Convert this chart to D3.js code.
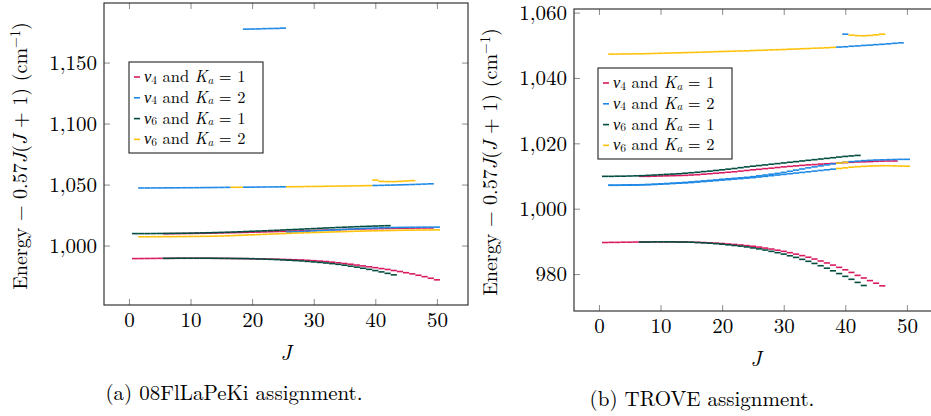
<!DOCTYPE html>
<html>
<head>
<meta charset="utf-8">
<script src="https://cdn.jsdelivr.net/npm/d3@7"></script>
<style>
  html, body { margin: 0; padding: 0; background: #fff; }
  svg { display: block; }
  text { font-family: "Latin Modern Roman", "CMU Serif", "Liberation Serif", "Times New Roman", serif; fill: #000; }
</style>
</head>
<body>
<svg id="fig" width="931" height="416"></svg>
<script>
// ---------------- data ----------------
const jTicks = [0, 10, 20, 30, 40, 50];
const flEnergyTicks = [1000, 1050, 1100, 1150];
const trEnergyTicks = [980, 1000, 1020, 1040, 1060];
const jLimits = [-4.05, 55.05];
const flEnergyLimits = [951.27, 1198.83];
const trEnergyLimits = [968.7, 1061.1];

const seriesColors = ["#D81B60", "#1E88E5", "#004D40", "#FFC107"];
const seriesNu = ["4", "4", "6", "6"];
const seriesKa = ["1", "2", "1", "2"];

// 08FlLaPeKi assignment (each list runs over consecutive J from the start J given in flBranches)
const fl_nu4K1_low = [989.3,989.35,989.4,989.45,989.5,989.5,989.55,989.6,989.6,989.6,
  989.6,989.6,989.6,989.55,989.5,989.5,989.4,989.35,989.3,989.2,
  989.1,989.0,988.9,988.8,988.65,988.5,988.35,988.2,987.9,987.6,
  987.25,986.9,986.4,985.9,985.3,984.7,984.0,983.3,982.6,981.9,
  981.15,980.4,979.55,978.7,977.75,976.8,975.65,974.5,973.2,971.9];
const fl_nu4K1_up = [1009.7,1009.75,1009.8,1009.85,1009.9,1010.0,1010.05,1010.15,1010.25,1010.35,
  1010.45,1010.55,1010.7,1010.8,1010.95,1011.05,1011.2,1011.35,1011.5,1011.65,
  1011.8,1011.95,1012.1,1012.25,1012.4,1012.55,1012.7,1012.85,1013.0,1013.15,
  1013.3,1013.45,1013.55,1013.7,1013.8,1013.9,1014.0,1014.1,1014.2,1014.25,
  1014.3,1014.35,1014.4,1014.45];
const fl_nu4K2_top1 = [1047.2,1047.2,1047.25,1047.25,1047.3,1047.3,1047.35,1047.4,1047.4,1047.45,
  1047.5,1047.55,1047.6,1047.65,1047.7];
const fl_nu4K2_top2 = [1047.85,1047.9,1047.95,1048.0,1048.05,1048.1,1048.15];
const fl_nu4K2_top3 = [1049.25,1049.35,1049.5,1049.6,1049.75,1049.9,1050.05,1050.2,1050.4,1050.6];
const fl_nu4K2_mid = [1011.1,1011.3,1011.5,1011.75,1012.0,1012.25,1012.5,1012.75,1013.0,1013.25,
  1013.5,1013.75,1014.0,1014.2,1014.4,1014.55,1014.7,1014.8,1014.9,1014.95,
  1015.0,1015.05,1015.1,1015.1,1015.1];
const fl_nu4K2_far = [1177.4,1177.5,1177.6,1177.8,1177.9,1178.0,1178.2];
const fl_nu6K1_low = [989.5,989.55,989.6,989.6,989.6,989.6,989.6,989.6,989.55,989.5,
  989.45,989.4,989.35,989.3,989.2,989.05,988.9,988.7,988.5,988.25,
  988.0,987.7,987.4,987.0,986.6,986.2,985.7,985.2,984.6,983.9,
  983.1,982.3,981.4,980.5,979.5,978.4,977.2,976.0];
const fl_nu6K1_up = [1009.8,1009.8,1009.8,1009.85,1009.9,1009.95,1010.0,1010.05,1010.1,1010.2,
  1010.3,1010.4,1010.5,1010.65,1010.8,1010.95,1011.1,1011.3,1011.5,1011.7,
  1011.9,1012.1,1012.3,1012.5,1012.75,1013.0,1013.2,1013.45,1013.7,1013.9,
  1014.15,1014.4,1014.6,1014.85,1015.05,1015.25,1015.45,1015.65,1015.8,1016.0,
  1016.15,1016.3];
const fl_nu6K2_mid = [1007.2,1007.2,1007.25,1007.25,1007.3,1007.3,1007.35,1007.4,1007.45,1007.5,
  1007.55,1007.6,1007.7,1007.8,1008.0,1008.2,1008.4,1008.6,1008.8,1009.0,
  1009.2,1009.4,1009.6,1009.8,1010.0,1010.2,1010.4,1010.55,1010.7,1010.85,
  1011.0,1011.15,1011.3,1011.45,1011.6,1011.75,1011.85,1012.0,1012.1,1012.2,
  1012.3,1012.4,1012.5,1012.6,1012.65,1012.7,1012.75,1012.8,1012.85];
const fl_nu6K2_top1 = [1047.75,1047.8];
const fl_nu6K2_top2 = [1048.2,1048.25,1048.3,1048.4,1048.45,1048.5,1048.6,1048.65,1048.75,1048.8,
  1048.9,1049.0,1049.05,1049.15];
const fl_nu6K2_high = [1053.6,1052.6,1052.4,1052.4,1052.6,1052.9,1053.2];

// [series index, first J, energies]
const flBranches = [
  [0, 1, fl_nu4K1_low], [0, 6, fl_nu4K1_up],
  [1, 2, fl_nu4K2_top1], [1, 19, fl_nu4K2_top2], [1, 40, fl_nu4K2_top3],
  [1, 26, fl_nu4K2_mid], [1, 19, fl_nu4K2_far],
  [2, 6, fl_nu6K1_low], [2, 1, fl_nu6K1_up],
  [3, 2, fl_nu6K2_mid], [3, 17, fl_nu6K2_top1], [3, 26, fl_nu6K2_top2], [3, 40, fl_nu6K2_high]
];

// TROVE assignment
const tr_nu4K1_low = [989.65,989.7,989.7,989.75,989.75,989.8,989.8,989.8,989.85,989.85,
  989.85,989.85,989.8,989.8,989.75,989.7,989.65,989.55,989.45,989.35,
  989.2,989.05,988.9,988.7,988.5,988.25,987.95,987.65,987.3,986.95,
  986.55,986.1,985.65,985.15,984.6,984.0,983.4,982.75,982.05,981.3,
  980.5,979.6,978.8,978.0,977.2,976.4];
const tr_nu4K1_up = [1009.9,1009.9,1009.95,1010.0,1010.05,1010.1,1010.15,1010.2,1010.3,1010.4,
  1010.55,1010.7,1010.85,1011.0,1011.15,1011.3,1011.5,1011.7,1011.9,1012.05,
  1012.25,1012.4,1012.6,1012.8,1012.95,1013.1,1013.25,1013.4,1013.5,1013.65,
  1013.75,1013.85,1013.95,1014.1,1014.2,1014.3,1014.35,1014.4,1014.5,1014.55,
  1014.6,1014.6];
const tr_nu4K2_midA = [1007.2,1007.2,1007.25,1007.3,1007.3,1007.35,1007.4,1007.5,1007.6,1007.7,
  1007.8,1007.9,1008.05,1008.2,1008.35,1008.5,1008.65,1008.8,1009.0,1009.15,
  1009.3,1009.45,1009.6,1009.8,1010.05,1010.3,1010.55,1010.8,1011.1,1011.45,
  1011.8,1012.15,1012.5,1012.8,1013.1,1013.4,1013.7,1013.95,1014.2,1014.4,
  1014.55,1014.7,1014.8,1014.9,1014.95,1015.0,1015.05,1015.1,1015.1];
const tr_nu4K2_midB = [1007.15,1007.15,1007.2,1007.2,1007.25,1007.3,1007.35,1007.4,1007.5,1007.6,
  1007.7,1007.8,1007.9,1008.0,1008.15,1008.3,1008.45,1008.6,1008.75,1008.9,
  1009.05,1009.2,1009.35,1009.5,1009.7,1009.9,1010.1,1010.3,1010.5,1010.7,
  1010.9,1011.1,1011.3,1011.5,1011.7,1011.9,1012.1];
const tr_nu4K2_top = [1049.45,1049.55,1049.7,1049.8,1049.95,1050.05,1050.2,1050.3,1050.45,1050.6,1050.75];
const tr_nu4K2_high = [1053.4];
const tr_nu6K1_low = [989.8,989.8,989.85,989.85,989.85,989.85,989.8,989.8,989.75,989.65,
  989.55,989.45,989.3,989.15,988.95,988.75,988.55,988.3,988.0,987.7,
  987.35,986.95,986.55,986.1,985.6,985.1,984.5,983.9,983.25,982.55,
  981.8,981.0,980.15,979.3,978.4,977.45,976.5];
const tr_nu6K1_up = [1009.9,1009.9,1009.95,1009.95,1010.0,1010.05,1010.1,1010.2,1010.3,1010.4,
  1010.5,1010.6,1010.7,1010.85,1011.0,1011.15,1011.35,1011.5,1011.7,1011.9,
  1012.1,1012.3,1012.55,1012.8,1013.0,1013.2,1013.4,1013.6,1013.8,1014.0,
  1014.2,1014.4,1014.6,1014.8,1015.0,1015.2,1015.4,1015.6,1015.8,1016.0,
  1016.15,1016.3];
const tr_nu6K2_mid = [1012.3,1012.5,1012.7,1012.85,1012.95,1013.05,1013.1,1013.15,1013.15,1013.1,1013.05,1013.0];
const tr_nu6K2_midUp = [1013.95,1014.2];
const tr_nu6K2_top = [1047.3,1047.3,1047.35,1047.35,1047.4,1047.4,1047.45,1047.5,1047.55,1047.6,
  1047.65,1047.7,1047.75,1047.8,1047.85,1047.9,1047.95,1048.05,1048.1,1048.15,
  1048.2,1048.25,1048.3,1048.4,1048.45,1048.5,1048.6,1048.65,1048.7,1048.8,
  1048.85,1048.95,1049.0,1049.1,1049.15,1049.25,1049.35];
const tr_nu6K2_high = [1053.1,1052.95,1052.9,1053.0,1053.2,1053.4];

const trBranches = [
  [0, 1, tr_nu4K1_low], [0, 7, tr_nu4K1_up],
  [1, 2, tr_nu4K2_midA], [1, 2, tr_nu4K2_midB], [1, 39, tr_nu4K2_top], [1, 40, tr_nu4K2_high],
  [2, 7, tr_nu6K1_low], [2, 1, tr_nu6K1_up],
  [3, 39, tr_nu6K2_mid], [3, 39, tr_nu6K2_midUp], [3, 2, tr_nu6K2_top], [3, 41, tr_nu6K2_high]
];

// ---------------- drawing ----------------
const svg = d3.select("#fig");
const FS = 21;        // tick labels, axis titles, captions
const LEG_FS = 16.5;  // legend entries

function addMathLabel(sel, nu, ka) {
  const sub = LEG_FS * 0.7;
  sel.append("tspan").attr("font-style", "italic").text("\u03BD");
  sel.append("tspan").attr("font-size", sub).attr("dy", 1.5).text(nu);
  sel.append("tspan").attr("dy", -1.5).text(" and ");
  sel.append("tspan").attr("font-style", "italic").text("K");
  sel.append("tspan").attr("font-size", sub).attr("font-style", "italic").attr("dy", 1.5).text("a");
  sel.append("tspan").attr("dy", -1.5).text(" = " + ka);
}

function drawPanel(opt) {
  const g = svg.append("g").attr("transform", `translate(${opt.left},${opt.top})`);
  const w = opt.width, h = opt.height;
  const x = d3.scaleLinear().domain(jLimits).range([0, w]);
  const y = d3.scaleLinear().domain(opt.yLimits).range([h, 0]);
  const clipId = "clip-" + opt.id;
  g.append("clipPath").attr("id", clipId).append("rect").attr("width", w).attr("height", h);

  // level dashes, one per (J, energy)
  const marks = g.append("g").attr("clip-path", `url(#${clipId})`);
  [0, 1, 2, 3].forEach(s => {
    opt.branches.filter(b => b[0] === s).forEach(([si, j0, vals]) => {
      marks.append("g").selectAll("line").data(vals).join("line")
        .attr("x1", (d, i) => x(j0 + i - 0.5))
        .attr("x2", (d, i) => x(j0 + i + 0.5))
        .attr("y1", d => y(d)).attr("y2", d => y(d))
        .attr("stroke", seriesColors[si]).attr("stroke-width", 1.6);
    });
  });

  // axes: ticks point inward on all four sides
  const fmt = d3.format(",");
  const ax = g.append("g").attr("transform", `translate(0,${h})`)
    .call(d3.axisBottom(x).tickValues(jTicks).tickSize(-6).tickPadding(7));
  const ay = g.append("g").call(d3.axisLeft(y).tickValues(opt.yTicks).tickFormat(fmt).tickSize(-6).tickPadding(7));
  const at = g.append("g").call(d3.axisTop(x).tickValues(jTicks).tickSize(-6).tickFormat(""));
  const ar = g.append("g").attr("transform", `translate(${w},0)`)
    .call(d3.axisRight(y).tickValues(opt.yTicks).tickSize(-6).tickFormat(""));
  [ax, ay, at, ar].forEach(a => {
    a.select(".domain").remove();
    a.selectAll(".tick line").attr("stroke", "#8c8c8c").attr("stroke-width", 1);
    a.selectAll(".tick text").attr("font-size", FS).attr("font-family", null);
  });
  g.append("rect").attr("width", w).attr("height", h)
    .attr("fill", "none").attr("stroke", "#222").attr("stroke-width", 1.1);

  // legend
  const lg = g.append("g").attr("transform", `translate(${opt.legX},${opt.legY})`);
  lg.append("rect").attr("width", 134).attr("height", 91)
    .attr("fill", "#fff").attr("stroke", "#222").attr("stroke-width", 1.1);
  [0, 1, 2, 3].forEach(s => {
    const ry = 15 + s * 20.8;
    lg.append("line").attr("x1", 5).attr("x2", 11).attr("y1", ry).attr("y2", ry)
      .attr("stroke", seriesColors[s]).attr("stroke-width", 1.6);
    const t = lg.append("text").attr("x", 15).attr("y", ry + 5).attr("font-size", LEG_FS);
    addMathLabel(t, seriesNu[s], seriesKa[s]);
  });

  // axis titles
  g.append("text").attr("x", w / 2).attr("y", h + 55)
    .attr("text-anchor", "middle").attr("font-size", FS).attr("font-style", "italic").text("J");
  const TFS = 20;
  const yt = g.append("text")
    .attr("transform", `translate(${opt.yTitleX},${h / 2 + 2}) rotate(-90)`)
    .attr("text-anchor", "middle").attr("font-size", TFS);
  yt.append("tspan").text("Energy \u2212 0.57");
  yt.append("tspan").attr("font-style", "italic").text("J");
  yt.append("tspan").text("(");
  yt.append("tspan").attr("font-style", "italic").text("J");
  yt.append("tspan").text(" + 1) (cm");
  yt.append("tspan").attr("font-size", TFS * 0.7).attr("dy", -7).text("\u22121");
  yt.append("tspan").attr("dy", 7).text(")");

  svg.append("text").attr("x", opt.capX).attr("y", opt.capY)
    .attr("text-anchor", "middle").attr("font-size", FS).text(opt.caption);
}

drawPanel({
  id: "fl", left: 104, top: 3, width: 364, height: 302,
  yLimits: flEnergyLimits, yTicks: flEnergyTicks, branches: flBranches,
  legX: 25, legY: 59, yTitleX: -77,
  caption: "(a) 08FlLaPeKi assignment.", capX: 234, capY: 400
});
drawPanel({
  id: "tr", left: 574, top: 9, width: 364, height: 302,
  yLimits: trEnergyLimits, yTicks: trEnergyTicks, branches: trBranches,
  legX: 24, legY: 59, yTitleX: -77,
  caption: "(b) TROVE assignment.", capX: 702, capY: 406
});
</script>
</body>
</html>
